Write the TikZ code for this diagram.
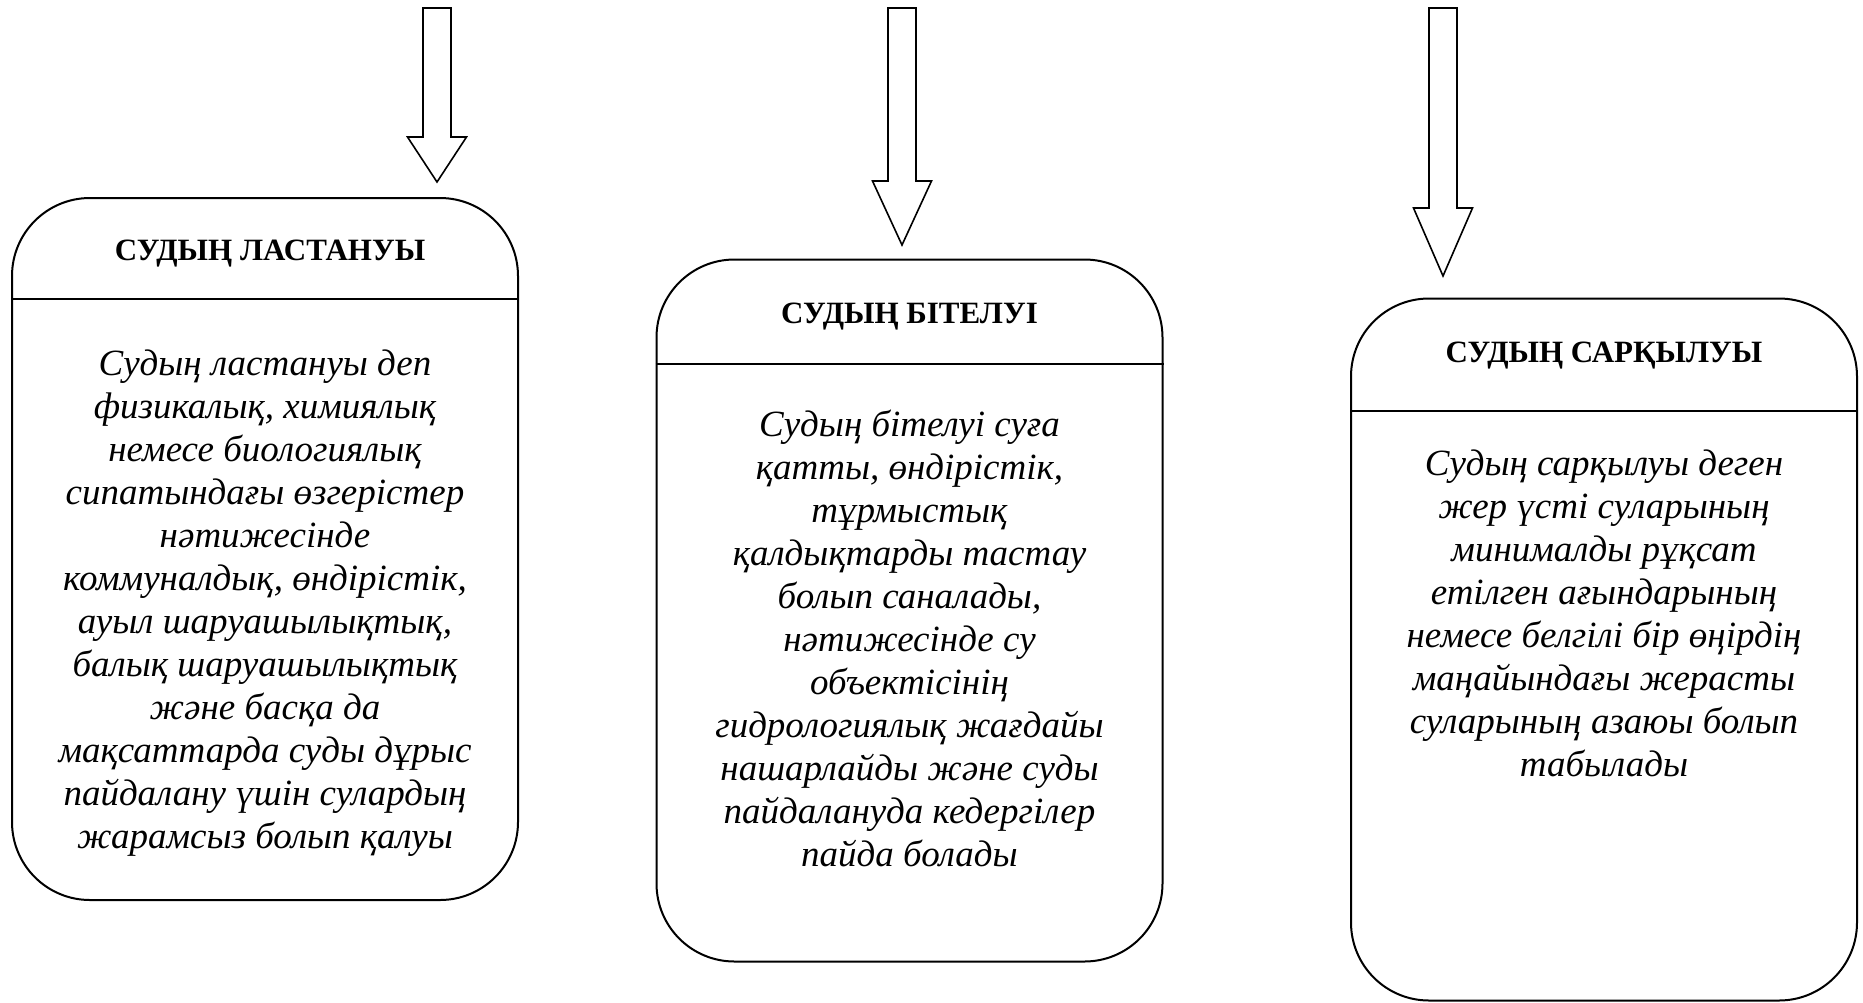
\documentclass[tikz,border=0pt]{standalone}
\usepackage{fontspec}
\setmainfont{Liberation Serif}
\usepackage{tikz}
\usetikzlibrary{positioning}
\usetikzlibrary{calc}
\tikzset{
    panel/.style={
        rectangle,
        draw=black,
        line width=1pt,
        rounded corners=39pt,
        minimum width=253pt,
        minimum height=351pt
    },
    thead/.style={
        font=\fontsize{15.5pt}{18pt}\selectfont\bfseries,
        inner sep=0pt
    },
    tbody/.style={
        font=\fontsize{18.5pt}{21.5pt}\selectfont\itshape,
        align=center,
        inner sep=0pt,
        anchor=north
    }
}

\begin{document}
\begin{tikzpicture}[
x=0.5pt, y=-0.5pt,
hollow/.style={draw=black, line width=0.8pt, fill=white},
rule/.style={draw=black, line width=1pt}
]
\useasboundingbox (0,0) rectangle (1863,1002);

% arrows
\foreach \ax/\ay/\tip in {437/137/182, 902/181/245, 1443/208/276}
  \draw[hollow] (\ax-14,8) -- (\ax+14,8) -- (\ax+14,\ay) -- (\ax+29.5,\ay)
     -- (\ax,\tip) -- (\ax-29.5,\ay) -- (\ax-14,\ay) -- cycle;

% boxes
\node[panel] (box1) at (265,549) {};
\node[panel] (box2) at (909.5,610.5) {};
\node[panel] (box3) at (1604,649.5) {};

\coordinate (h1) at (0,299);
\coordinate (h2) at (0,364);
\coordinate (h3) at (0,411);
\draw[rule] (box1.west |- h1) -- (box1.east |- h1);
\draw[rule] (box2.west |- h2) -- (box2.east |- h2);
\draw[rule] (box3.west |- h3) -- (box3.east |- h3);

% titles
\node[thead] (t1) at (270,254) {СУДЫҢ ЛАСТАНУЫ};
\node[thead] (t2) at (909.5,317) {СУДЫҢ БІТЕЛУІ};
\node[thead] (t3) at (1604,356) {СУДЫҢ САРҚЫЛУЫ};

% texts
\node[tbody] (b1) at (265,349) {Судың ластануы деп\\
физикалық, химиялық\\
немесе биологиялық\\
сипатындағы өзгерістер\\
нәтижесінде\\
коммуналдық, өндірістік,\\
ауыл шаруашылықтық,\\
балық шаруашылықтық\\
және басқа да\\
мақсаттарда суды дұрыс\\
пайдалану үшін сулардың\\
жарамсыз болып қалуы};
\node[tbody] (b2) at (909.5,410) {Судың бітелуі суға\\
қатты, өндірістік,\\
тұрмыстық\\
қалдықтарды тастау\\
болып саналады,\\
нәтижесінде су\\
объектісінің\\
гидрологиялық жағдайы\\
нашарлайды және суды\\
пайдалануда кедергілер\\
пайда болады};
\node[tbody] (b3) at (1604,449) {Судың сарқылуы деген\\
жер үсті суларының\\
минималды рұқсат\\
етілген ағындарының\\
немесе белгілі бір өңірдің\\
маңайындағы жерасты\\
суларының азаюы болып\\
табылады};
\end{tikzpicture}
\end{document}
